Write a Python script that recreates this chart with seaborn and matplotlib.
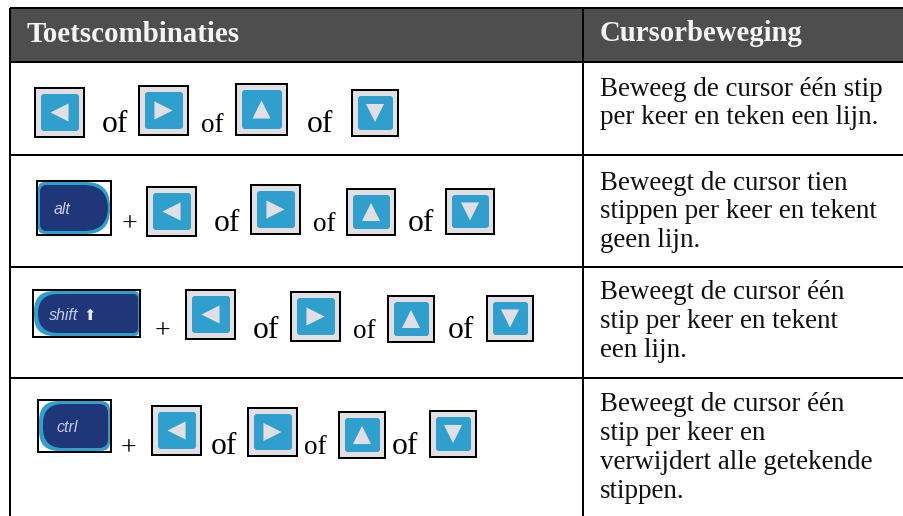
import pandas as pd
import matplotlib
matplotlib.use("Agg")
import matplotlib.pyplot as plt
from matplotlib.patches import PathPatch, Rectangle
from matplotlib.path import Path
import seaborn as sns

headers = ["Toetscombinaties", "Cursorbeweging"]
descriptions = [
    ["Beweeg de cursor één stip", "per keer en teken een lijn."],
    ["Beweegt de cursor tien", "stippen per keer en tekent", "geen lijn."],
    ["Beweegt de cursor één", "stip per keer en tekent", "een lijn."],
    ["Beweegt de cursor één", "stip per keer en", "verwijdert alle getekende", "stippen."],
]
mod_names = ["alt", "shift", "ctrl"]
arrow_names = ["left", "right", "up", "down"]
joiner = "of"
plus = "+"

# layout, all in pixels of the 904x516 picture
line_ys = [8, 62, 155, 267, 378]
col_x = 583
desc_baselines = [[96, 124.5], [189.5, 218, 247], [299, 328, 357], [411, 440, 469, 498]]
arrow_boxes = [
    [(35, 88, 84, 137), (139, 86, 188, 135), (236, 84, 287, 135), (352, 90, 398, 136)],
    [(147, 187, 196, 236), (251, 185, 300, 234), (347, 189, 395, 235), (446, 189, 494, 234)],
    [(186, 290, 235, 339), (291, 292, 340, 341), (388, 296, 434, 342), (487, 296, 533, 341)],
    [(152, 406, 201, 455), (248, 408, 297, 456), (339, 412, 385, 458), (430, 411, 476, 457)],
]
of_pos = [
    [(102, 132, 30), (201, 132, 26), (307, 132, 30)],
    [(214, 231, 30), (313, 231, 26), (408, 231, 30)],
    [(253, 338, 30), (353, 338, 26), (448, 338, 30)],
    [(211, 454, 30), (304, 454, 26), (392, 454, 30)],
]
mod_boxes = [(37, 181, 111, 235), (33, 290, 140, 337), (38, 400, 111, 452)]
mod_radii = [(7, 24, 24, 7), (20, 5, 5, 20), (20, 9, 9, 20)]
mod_insets = [(3, 3), (5, 2), (5, 3)]
mod_text = [(54, 214), (49, 320), (56, 432)]
plus_pos = [(130, 231), (163, 338), (129, 455)]

SERIF = "Liberation Serif"
BLUE = "#2f9fcd"
NAVY = "#1f3679"
CAP = "#e1dfe3"

sns.set_theme(style="white")
plt.rcParams["font.family"] = [SERIF, "DejaVu Sans"]


def px(size):
    return size * 0.72


def rounded(x0, y0, x1, y1, r):
    tl, tr, br, bl = r
    verts = [(x0 + tl, y0), (x1 - tr, y0), (x1, y0), (x1, y0 + tr), (x1, y1 - br), (x1, y1),
             (x1 - br, y1), (x0 + bl, y1), (x0, y1), (x0, y1 - bl), (x0, y0 + tl), (x0, y0),
             (x0 + tl, y0), (x0 + tl, y0)]
    codes = [Path.MOVETO, Path.LINETO, Path.CURVE3, Path.CURVE3, Path.LINETO, Path.CURVE3,
             Path.CURVE3, Path.LINETO, Path.CURVE3, Path.CURVE3, Path.LINETO, Path.CURVE3,
             Path.CURVE3, Path.CLOSEPOLY]
    return Path(verts, codes)


fig = plt.figure(figsize=(9.04, 5.16), dpi=100)
ax = fig.add_axes([0, 0, 1, 1])
ax.set_xlim(0, 904)
ax.set_ylim(516, 0)
ax.axis("off")

# table frame
ax.add_patch(Rectangle((10, line_ys[0]), 894, line_ys[1] - line_ys[0], color="#4e4e4e", lw=0))
ax.hlines(line_ys, 10, 904, color="black", lw=px(2))
ax.vlines(10.5, line_ys[0], 516, color="black", lw=px(2))
ax.vlines(col_x, line_ys[0], 516, color="black", lw=px(2))

ax.text(27, 42, headers[0], color="#f4f4f4", fontsize=px(29), fontweight="bold")
ax.text(600, 41, headers[1], color="#f4f4f4", fontsize=px(28.7), fontweight="bold")

for lines, bases in zip(descriptions, desc_baselines):
    for line, y in zip(lines, bases):
        ax.text(600, y, line, color="#111111", fontsize=px(27))

# arrow keys
tri = []
for row in arrow_boxes:
    for name, (x0, y0, x1, y1) in zip(arrow_names, row):
        ax.add_patch(Rectangle((x0, y0), x1 - x0, y1 - y0, fc=CAP, ec="black", lw=px(2)))
        ax.add_patch(PathPatch(rounded(x0 + 6, y0 + 6, x1 - 5, y1 - 6, (3, 3, 3, 3)), fc=BLUE, lw=0))
        tri.append({"x": (x0 + x1) / 2, "y": (y0 + y1) / 2, "key": name})
tri = pd.DataFrame(tri)
sns.scatterplot(data=tri, x="x", y="y", style="key",
                markers={"left": "<", "right": ">", "up": "^", "down": "v"},
                s=170, color=CAP, linewidth=0, legend=False, ax=ax)
ax.set_xlim(0, 904)
ax.set_ylim(516, 0)

# modifier keys
for name, box, r, inset, (tx, ty) in zip(mod_names, mod_boxes, mod_radii, mod_insets, mod_text):
    x0, y0, x1, y1 = box
    ax.add_patch(Rectangle((x0, y0), x1 - x0, y1 - y0, fc="white", ec="black", lw=px(2)))
    ax.add_patch(PathPatch(rounded(x0 + 1, y0 + 1, x1 - 1, y1 - 1, r), fc=BLUE, lw=0))
    ax.add_patch(PathPatch(rounded(x0 + inset[0], y0 + 4, x1 - inset[1], y1 - 4, r), fc=NAVY, lw=0))
    ax.text(tx, ty, name, color="#c9cde6", fontsize=px(16), style="italic", family="Liberation Sans")
ax.text(90, 320, "\u2b06", color="#e6e8f4", fontsize=px(15), ha="center", family="DejaVu Sans")

for row in of_pos:
    for x, y, size in row:
        ax.text(x, y, joiner, color="black", fontsize=px(size * 1.05))
for x, y in plus_pos:
    ax.text(x, y, plus, color="black", fontsize=px(28), ha="center")

plt.savefig("out.png", dpi=100)
